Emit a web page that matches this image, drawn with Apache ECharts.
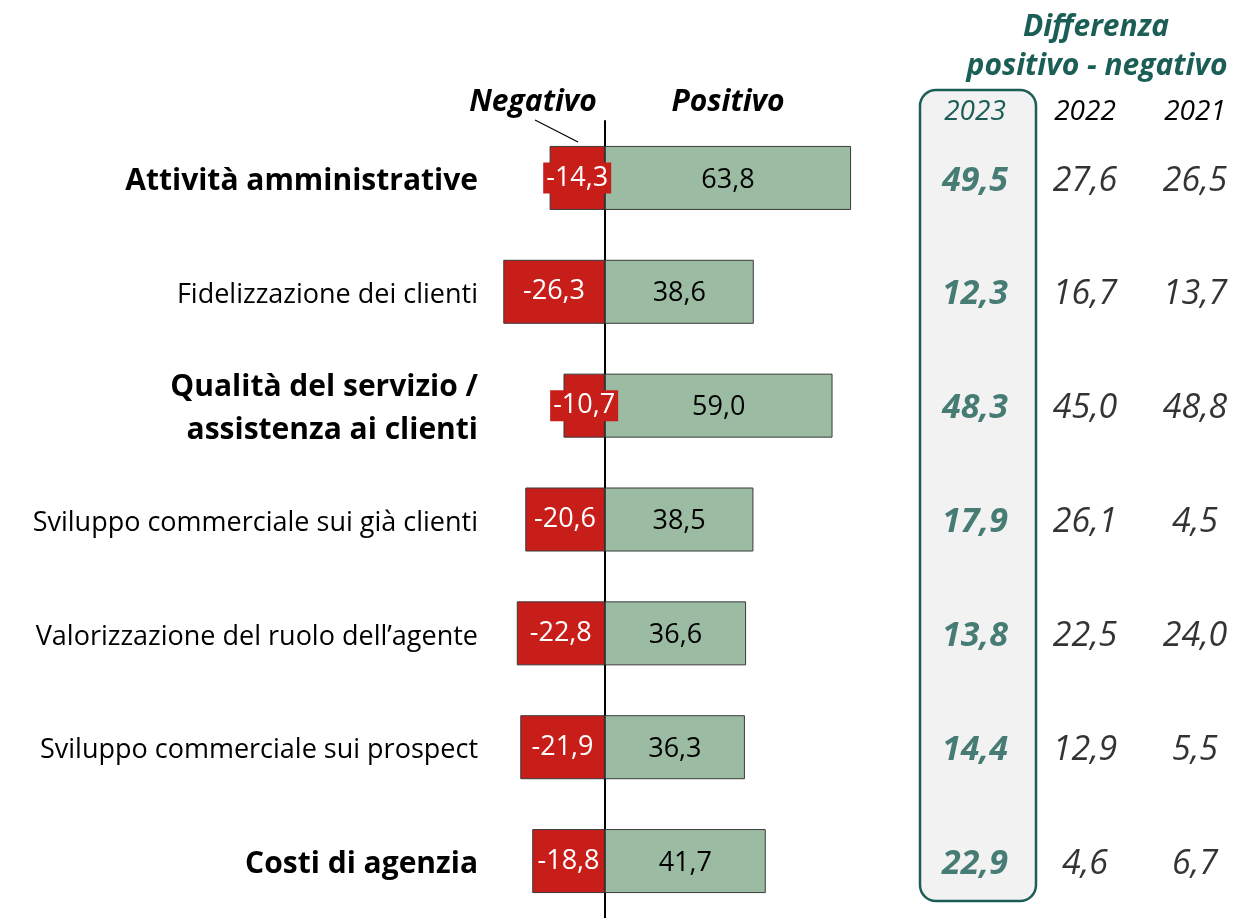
<!DOCTYPE html>
<html>
<head>
<meta charset="utf-8">
<script src="https://cdn.jsdelivr.net/npm/echarts@6/dist/echarts.min.js"></script>
<style>
  html, body { margin: 0; padding: 0; background: #fff; }
  #chart { width: 1250px; height: 918px; }
</style>
</head>
<body>
<div id="chart"></div>
<script>
// data
const categories = [
  'Attività amministrative',
  'Fidelizzazione dei clienti',
  'Qualità del servizio /\nassistenza ai clienti',
  'Sviluppo commerciale sui già clienti',
  'Valorizzazione del ruolo dell\u2019agente',
  'Sviluppo commerciale sui prospect',
  'Costi di agenzia'
];
const boldRows = [true, false, true, false, false, false, true];
const negativeValues = [-14.3, -26.3, -10.7, -20.6, -22.8, -21.9, -18.8];
const positiveValues = [63.8, 38.6, 59.0, 38.5, 36.6, 36.3, 41.7];
const years = ['2023', '2022', '2021'];
const diff2023 = [49.5, 12.3, 48.3, 17.9, 13.8, 14.4, 22.9];
const diff2022 = [27.6, 16.7, 45.0, 26.1, 22.5, 12.9, 4.6];
const diff2021 = [26.5, 13.7, 48.8, 4.5, 24.0, 5.5, 6.7];

const FONT = 'Open Sans';
const TEAL = '#1B5E55';
const fmt = v => v.toFixed(1).replace('.', ',');

const chart = echarts.init(document.getElementById('chart'));

function tableSeries(values, colIdx, style) {
  return {
    type: 'scatter',
    xAxisIndex: 1,
    yAxisIndex: 1,
    symbolSize: 0,
    silent: true,
    data: values.map((v, i) => [colIdx, i, v]),
    label: {
      show: true,
      position: 'inside',
      offset: [0, 3],
      formatter: p => fmt(p.value[2]),
      fontFamily: FONT,
      fontStyle: 'italic',
      ...style
    }
  };
}

chart.setOption({
  animation: false,
  backgroundColor: '#fff',
  grid: [
    { left: 489, top: 121, width: 386, height: 797 },
    { left: 920, top: 121, width: 348, height: 797 }
  ],
  xAxis: [
    {
      type: 'value', gridIndex: 0, min: -30, max: 70,
      show: false
    },
    {
      type: 'category', gridIndex: 1, data: years, position: 'top',
      axisLine: { show: false }, axisTick: { show: false },
      axisLabel: {
        margin: -5,
        fontFamily: FONT, fontStyle: 'italic', fontSize: 28,
        color: (v, i) => i === 0 ? TEAL : '#000'
      }
    }
  ],
  yAxis: [
    {
      type: 'category', gridIndex: 0, data: categories, inverse: true,
      axisLine: { onZero: true, lineStyle: { color: '#000', width: 2 } },
      axisTick: { show: false },
      axisLabel: {
        margin: 11,
        align: 'right',
        padding: [7, 0, 0, 0],
        formatter: (v, i) => boldRows[i] ? '{b|' + v + '}' : '{n|' + v + '}',
        rich: {
          b: { fontFamily: FONT, fontWeight: 'bold', fontSize: 30, color: '#000', lineHeight: 43, align: 'right' },
          n: { fontFamily: FONT, fontSize: 27, color: '#000', align: 'right' }
        }
      }
    },
    {
      type: 'category', gridIndex: 1, data: categories, inverse: true,
      show: false
    }
  ],
  graphic: [
    {
      type: 'rect', z: -1,
      shape: { x: 920, y: 90, width: 116, height: 811, r: 16 },
      style: { fill: '#F2F2F2', stroke: TEAL, lineWidth: 2.5 }
    },
    {
      type: 'text', x: 1096, y: 27,
      style: {
        text: 'Differenza', fill: TEAL, align: 'center', verticalAlign: 'middle',
        font: 'italic bold 30px ' + FONT
      }
    },
    {
      type: 'text', x: 1097, y: 66,
      style: {
        text: 'positivo - negativo', fill: TEAL, align: 'center', verticalAlign: 'middle',
        font: 'italic bold 30px ' + FONT
      }
    },
    {
      type: 'text', x: 533, y: 102,
      style: {
        text: 'Negativo', fill: '#000', align: 'center', verticalAlign: 'middle',
        font: 'italic bold 30px ' + FONT
      }
    },
    {
      type: 'text', x: 728, y: 102,
      style: {
        text: 'Positivo', fill: '#000', align: 'center', verticalAlign: 'middle',
        font: 'italic bold 30px ' + FONT
      }
    },
    {
      type: 'line',
      shape: { x1: 535, y1: 120, x2: 578, y2: 142 },
      style: { stroke: '#000', lineWidth: 1.2 }
    }
  ],
  series: [
    {
      name: 'Negativo', type: 'bar', stack: 'tot',
      barWidth: 64,
      data: negativeValues,
      itemStyle: { color: '#C81E1A', borderColor: '#3a3a3a', borderWidth: 1 },
      label: {
        show: true, position: 'inside', color: '#fff',
        fontFamily: FONT, fontSize: 27,
        backgroundColor: '#C81E1A', padding: [4, 3, 0, 3],
        formatter: p => fmt(p.value)
      }
    },
    {
      name: 'Positivo', type: 'bar', stack: 'tot',
      barWidth: 64,
      data: positiveValues,
      itemStyle: { color: '#9BBCA3', borderColor: '#3a3a3a', borderWidth: 1 },
      label: {
        show: true, position: 'inside', color: '#000',
        fontFamily: FONT, fontSize: 27, offset: [0, 2],
        formatter: p => fmt(p.value)
      }
    },
    tableSeries(diff2023, 0, { color: TEAL, fontWeight: 'bold', fontSize: 34 }),
    tableSeries(diff2022, 1, { color: '#000', fontSize: 34 }),
    tableSeries(diff2021, 2, { color: '#000', fontSize: 34 })
  ]
});
</script>
</body>
</html>
